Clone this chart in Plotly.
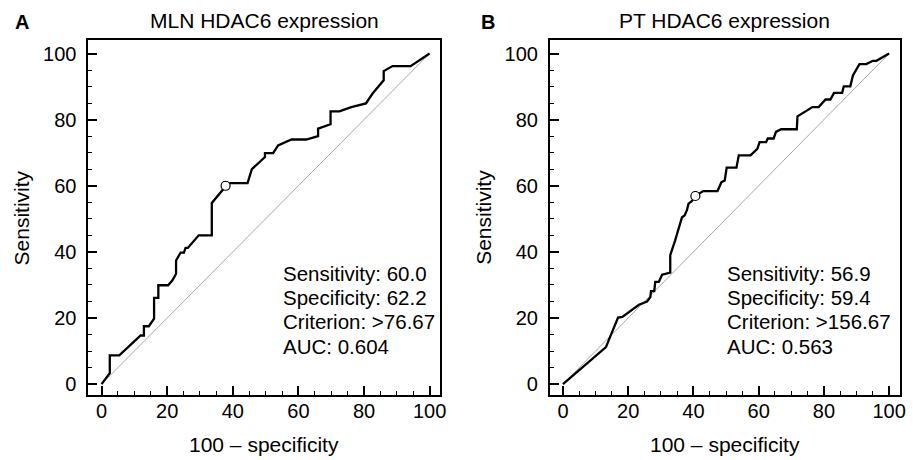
import plotly.graph_objects as go

# ---- data ----
mln_fpr = [0, 2.5, 2.5, 5.4, 11.9, 12.9, 12.9, 14.4, 16.0, 16.0, 17.3, 17.3, 20.3, 21.6, 22.7, 22.7,
           24.1, 25.1, 25.6, 26.3, 29.6, 33.6, 33.6, 36.7, 37.8, 39.2, 44.5, 45.8, 49.8, 49.8,
           52.3, 53.8, 57.9, 62.4, 66.0, 66.0, 69.8, 69.8, 72.5, 76.1, 80.6, 82.6, 86.0, 86.0,
           88.7, 94.2, 100]
mln_tpr = [0, 3.3, 8.7, 8.7, 14.7, 14.7, 17.5, 17.5, 19.8, 26.1, 26.1, 29.9, 29.9, 31.4, 33.4, 37.4,
           39.8, 39.8, 41.2, 41.2, 45.0, 45.0, 54.8, 58.6, 59.8, 60.8, 60.8, 65.0, 68.7, 69.9,
           69.9, 72.2, 74.0, 74.0, 75.0, 77.3, 78.6, 82.5, 82.5, 83.8, 84.9, 87.9, 91.9, 94.7,
           96.2, 96.2, 100]
mln_point = (37.8, 60.0)
mln_stats = ["Sensitivity: 60.0", "Specificity: 62.2", "Criterion: >76.67", "AUC: 0.604"]

pt_fpr = [0, 13.2, 14.2, 16.9, 18.2, 23.3, 25.8, 26.8, 27.0, 28.0, 28.3, 29.4, 30.4, 32.9, 32.9,
          33.6, 34.4, 36.5, 37.3, 38.0, 38.5, 39.5, 40.6, 43.0, 47.4, 48.6, 49.6, 50.2, 53.2,
          53.9, 57.5, 59.6, 60.3, 62.3, 62.8, 64.6, 65.3, 66.9, 71.7, 71.9, 74.0, 76.5, 78.4,
          80.5, 82.0, 83.1, 85.6, 86.1, 88.1, 88.9, 90.9, 93.0, 95.0, 96.1, 100]
pt_tpr = [0, 11.2, 13.7, 20.1, 20.3, 24.0, 25.0, 26.3, 28.1, 28.1, 30.9, 30.9, 33.1, 33.7, 39.0,
          41.5, 43.5, 50.5, 51.0, 52.6, 54.6, 55.3, 56.9, 58.4, 58.4, 61.1, 61.6, 65.5, 65.5,
          69.2, 69.2, 71.2, 73.2, 73.2, 74.3, 74.3, 76.3, 77.1, 77.1, 81.0, 82.3, 83.8, 83.8,
          86.1, 86.1, 88.1, 88.1, 90.1, 90.1, 93.4, 96.8, 96.8, 97.8, 97.8, 100]
pt_point = (40.6, 56.9)
pt_stats = ["Sensitivity: 56.9", "Specificity: 59.4", "Criterion: >156.67", "AUC: 0.563"]

titles = ["MLN HDAC6 expression", "PT HDAC6 expression"]
panel_labels = ["A", "B"]
diag = [0, 100]

FONT = "Liberation Sans, Arial, sans-serif"
OFF = 8                      # page body margin
W, H = 915 - OFF, 460 - OFF  # figure size that fits the window


def fx(px):  # window pixel x -> paper fraction
    return (px - OFF) / W


def fy(py):  # window pixel y -> paper fraction
    return 1 - (py - OFF) / H


fig = go.Figure()

panels = [
    dict(fpr=mln_fpr, tpr=mln_tpr, pt=mln_point, stats=mln_stats, xa="x", ya="y", tx=54.7),
    dict(fpr=pt_fpr, tpr=pt_tpr, pt=pt_point, stats=pt_stats, xa="x2", ya="y2", tx=49.6),
]

for p in panels:
    fig.add_trace(go.Scatter(x=diag, y=diag, mode="lines", xaxis=p["xa"], yaxis=p["ya"],
                             line=dict(color="#a8a8a8", width=1), hoverinfo="skip", showlegend=False))
    fig.add_trace(go.Scatter(x=p["fpr"], y=p["tpr"], mode="lines", xaxis=p["xa"], yaxis=p["ya"],
                             line=dict(color="black", width=2.3), showlegend=False))
    fig.add_trace(go.Scatter(x=[p["pt"][0]], y=[p["pt"][1]], mode="markers", xaxis=p["xa"], yaxis=p["ya"],
                             marker=dict(symbol="circle", size=9, color="white",
                                         line=dict(color="black", width=1.2)), showlegend=False))
    line_y = [33.6, 26.2, 18.8, 11.4]
    for txt, yy in zip(p["stats"], line_y):
        fig.add_annotation(x=p["tx"], y=yy, xref=p["xa"], yref=p["ya"], text=txt, showarrow=False,
                           xanchor="left", yanchor="middle", font=dict(size=20.5, color="black", family=FONT))

xdoms = [[fx(89), fx(443)], [fx(553.5), fx(905.5)]]
ydom = [fy(395), fy(40)]

axis_common = dict(
    showline=True, linecolor="black", linewidth=2, mirror=True,
    ticks="inside", ticklen=9, tickwidth=1.5, tickcolor="black",
    showgrid=False, zeroline=False,
    tickfont=dict(size=20, color="black", family=FONT),
    tickvals=[0, 20, 40, 60, 80, 100],
    minor=dict(ticks="inside", ticklen=4, tickwidth=1, tickcolor="black", dtick=5, showgrid=False),
)

layout = dict(
    width=W, height=H, margin=dict(l=0, r=0, t=0, b=0),
    paper_bgcolor="white", plot_bgcolor="white",
    font=dict(family=FONT, color="black"),
    showlegend=False,
)
for i, suf in enumerate(["", "2"]):
    layout["xaxis" + suf] = dict(axis_common, domain=xdoms[i], range=[-4, 103.2],
                                 anchor="y" + suf, ticklabelstandoff=-3)
    layout["yaxis" + suf] = dict(axis_common, domain=ydom, range=[-3.3, 104.1],
                                 anchor="x" + suf, ticklabelstandoff=6)
fig.update_layout(**layout)

for i in range(2):
    cx = (xdoms[i][0] + xdoms[i][1]) / 2
    fig.add_annotation(x=cx, y=fy(21), xref="paper", yref="paper", text=titles[i], showarrow=False,
                       xanchor="center", yanchor="middle", font=dict(size=21, family=FONT, color="black"))
    fig.add_annotation(x=cx, y=fy(444), xref="paper", yref="paper", text="100 \u2013 specificity",
                       showarrow=False, xanchor="center", yanchor="middle",
                       font=dict(size=21, family=FONT, color="black"))
    fig.add_annotation(x=xdoms[i][0] - 67 / W, y=(ydom[0] + ydom[1]) / 2, xref="paper", yref="paper",
                       text="Sensitivity", textangle=-90, showarrow=False, xanchor="center", yanchor="middle",
                       font=dict(size=21, family=FONT, color="black"))
    fig.add_annotation(x=fx([22, 491][i]), y=fy(22), xref="paper", yref="paper",
                       text="<b>" + panel_labels[i] + "</b>", showarrow=False, xanchor="center",
                       yanchor="middle", font=dict(size=20, family=FONT, color="black"))

fig.write_html("out.html")
